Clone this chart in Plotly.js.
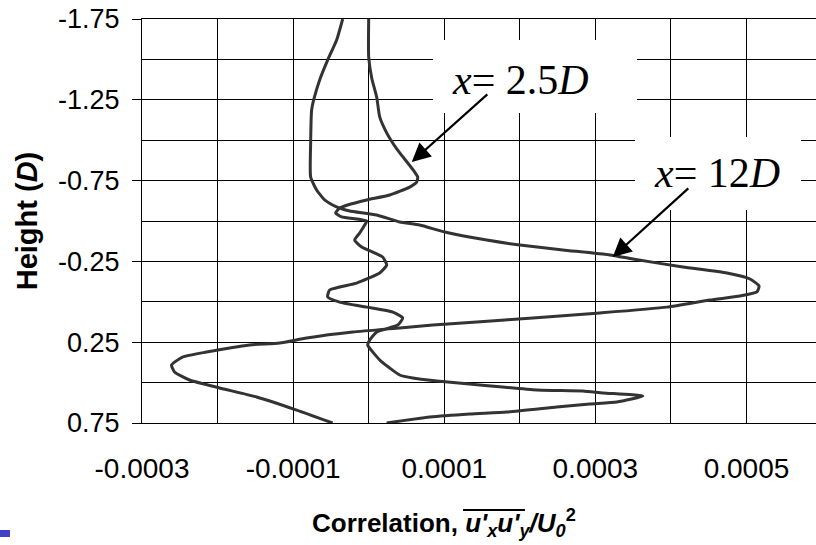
<!DOCTYPE html>
<html><head><meta charset="utf-8">
<script src="https://cdn.plot.ly/plotly-3.0.1.min.js"></script>
<style>html,body{margin:0;padding:0;background:#fff;} #chart{width:816px;height:545px;}</style>
</head><body><div id="chart"></div>
<script>
// x = 2.5D profile
const corrA = [0, 0, 0.04e-4, 0.106e-4, 0.146e-4, 0.238e-4, 0.318e-4, 0.411e-4, 0.517e-4, 0.609e-4,
  0.649e-4, 0.636e-4, 0.543e-4, 0.278e-4, -0.026e-4, -0.278e-4, -0.384e-4, -0.437e-4, -0.358e-4, -0.026e-4,
  -0.053e-4, -0.119e-4, -0.185e-4, -0.093e-4, 0.185e-4, 0.238e-4, 0.146e-4, -0.159e-4, -0.517e-4, -0.543e-4,
  -0.384e-4, -0.026e-4, 0.318e-4, 0.450e-4, 0.384e-4, 0.106e-4, 0.013e-4, -0.013e-4, 0.146e-4, 0.278e-4,
  0.411e-4, 0.583e-4, 0.901e-4, 1.470e-4, 2.225e-4, 2.834e-4, 3.099e-4, 3.629e-4, 3.285e-4, 2.927e-4,
  2.490e-4, 1.828e-4, 1.338e-4, 0.808e-4, 0.238e-4];
const heightA = [-1.75, -1.515, -1.385, -1.267, -1.144, -1.045, -0.983, -0.921, -0.859, -0.803,
  -0.772, -0.741, -0.710, -0.661, -0.630, -0.599, -0.580, -0.550, -0.525, -0.500,
  -0.475, -0.426, -0.382, -0.339, -0.277, -0.228, -0.178, -0.116, -0.073, -0.030,
  0.002, 0.033, 0.064, 0.100, 0.144, 0.187, 0.237, 0.267, 0.360, 0.410,
  0.453, 0.472, 0.490, 0.515, 0.546, 0.552, 0.564, 0.583, 0.620, 0.632,
  0.651, 0.682, 0.694, 0.713, 0.750];

// x = 12D profile
const corrB = [-0.344e-4, -0.424e-4, -0.543e-4, -0.649e-4, -0.728e-4, -0.755e-4, -0.768e-4, -0.768e-4, -0.689e-4, -0.583e-4,
  -0.477e-4, -0.384e-4, -0.252e-4, 0.106e-4, 0.411e-4, 0.675e-4, 1.007e-4, 1.563e-4, 2.000e-4, 2.570e-4,
  3.192e-4, 3.497e-4, 4.159e-4, 4.742e-4, 5.046e-4, 5.166e-4, 5.139e-4, 4.914e-4, 4.517e-4, 3.947e-4,
  3.060e-4, 2.172e-4, 1.430e-4, 0.848e-4, 0.411e-4, -0.212e-4, -0.821e-4, -1.179e-4, -1.576e-4, -2.146e-4,
  -2.464e-4, -2.609e-4, -2.570e-4, -2.371e-4, -1.974e-4, -1.483e-4, -0.954e-4, -0.477e-4];
const heightB = [-1.75, -1.62, -1.496, -1.373, -1.249, -1.187, -0.983, -0.772, -0.692, -0.630,
  -0.599, -0.580, -0.562, -0.537, -0.494, -0.475, -0.432, -0.382, -0.351, -0.321,
  -0.290, -0.265, -0.215, -0.178, -0.141, -0.098, -0.061, -0.036, -0.011, 0.033,
  0.069, 0.100, 0.125, 0.144, 0.162, 0.187, 0.224, 0.255, 0.267, 0.311,
  0.342, 0.391, 0.434, 0.484, 0.533, 0.589, 0.670, 0.750];

const xTickVals = [-0.0003, -0.0001, 0.0001, 0.0003, 0.0005];
const xTickText = ['-0.0003', '-0.0001', '0.0001', '0.0003', '0.0005'];
const yTickVals = [-1.75, -1.25, -0.75, -0.25, 0.25, 0.75];
const yTickText = ['-1.75', '-1.25', '-0.75', '-0.25', '0.25', '0.75'];

const sansFam = '"Liberation Sans", Arial, sans-serif';
const lineStyle = {color: '#333333', width: 3, shape: 'spline', smoothing: 0.5};

const traces = [
  {x: corrA, y: heightA, type: 'scatter', mode: 'lines', name: 'x = 2.5D', line: lineStyle, hoverinfo: 'skip'},
  {x: corrB, y: heightB, type: 'scatter', mode: 'lines', name: 'x = 12D', line: lineStyle, hoverinfo: 'skip'}
];

const gridW = 1;
const layout = {
  width: 816, height: 545,
  margin: {l: 142, r: 0, t: 19, b: 122, pad: 0},
  paper_bgcolor: '#fff', plot_bgcolor: '#fff',
  showlegend: false,
  xaxis: {
    range: [-0.0003, 0.000592],
    tickmode: 'array', tickvals: xTickVals, ticktext: xTickText,
    ticks: '', showgrid: true, gridcolor: '#000', gridwidth: gridW,
    zeroline: false, showline: true, linecolor: '#000', linewidth: gridW, mirror: true,
    minor: {dtick: 0.0001, tick0: -0.0003, showgrid: true, gridcolor: '#000', gridwidth: gridW, ticks: ''},
    tickfont: {family: sansFam, size: 28, color: '#000'},
    ticklabelstandoff: 20
  },
  yaxis: {
    range: [0.75, -1.75],
    tickmode: 'array', tickvals: yTickVals, ticktext: yTickText,
    ticks: 'outside', ticklen: 9, tickwidth: gridW, tickcolor: '#000',
    showgrid: true, gridcolor: '#000', gridwidth: gridW,
    zeroline: false, showline: true, linecolor: '#000', linewidth: gridW,
    minor: {dtick: 0.25, tick0: -1.75, showgrid: true, gridcolor: '#000', gridwidth: gridW, ticks: ''},
    tickfont: {family: sansFam, size: 27, color: '#000'},
    ticklabelstandoff: 7,
    title: {text: '<b>Height (<i>D</i>)</b>', font: {family: sansFam, size: 29, color: '#000'}, standoff: 11}
  },
  shapes: [
    {type: 'rect', xref: 'paper', yref: 'paper', x0: 0.4318, x1: 0.7344, y0: 0.7673, y1: 0.948, fillcolor: '#fff', line: {width: 0}, layer: 'above'},
    {type: 'rect', xref: 'paper', yref: 'paper', x0: 0.7315, x1: 0.9777, y0: 0.5272, y1: 0.7079, fillcolor: '#fff', line: {width: 0}, layer: 'above'},
    {type: 'rect', xref: 'paper', yref: 'paper', x0: -0.2107, x1: -0.1958, y0: -0.2822, y1: -0.2649, fillcolor: '#4040c8', line: {width: 0}},
    {type: 'line', xref: 'paper', yref: 'paper', x0: 0.4763, x1: 0.5682, y0: -0.2153, y1: -0.2153, line: {color: '#000', width: 2}}
  ],
  annotations: [
    {xref: 'paper', yref: 'paper', x: 0.5623, y: 0.849, xanchor: 'center', yanchor: 'middle', showarrow: false,
     text: '<i>x</i>= 2.5<i>D</i>', font: {family: '"Liberation Serif", "Times New Roman", serif', size: 42, color: '#000'}},
    {xref: 'paper', yref: 'paper', x: 0.8531, y: 0.6188, xanchor: 'center', yanchor: 'middle', showarrow: false,
     text: '<i>x</i>= 12<i>D</i>', font: {family: '"Liberation Serif", "Times New Roman", serif', size: 42, color: '#000'}},
    {xref: 'x', yref: 'y', x: 0.57e-4, y: -0.865, axref: 'x', ayref: 'y', ax: 1.59e-4, ay: -1.292, text: '',
     showarrow: true, arrowhead: 2, arrowsize: 1.7, arrowwidth: 2.2, arrowcolor: '#000'},
    {xref: 'x', yref: 'y', x: 3.23e-4, y: -0.277, axref: 'x', ayref: 'y', ax: 4.25e-4, ay: -0.710, text: '',
     showarrow: true, arrowhead: 2, arrowsize: 1.7, arrowwidth: 2.2, arrowcolor: '#000'},
    {xref: 'paper', yref: 'paper', x: 0.2493, y: -0.2475, xanchor: 'left', yanchor: 'middle', showarrow: false,
     text: '<b>Correlation, <i>u\'<sub>x</sub>u\'<sub>y</sub>/U<sub>0</sub></i><sup>2</sup></b>',
     font: {family: sansFam, size: 26, color: '#000'}}
  ]
};

Plotly.newPlot('chart', traces, layout, {displayModeBar: false});
</script>
</body></html>
